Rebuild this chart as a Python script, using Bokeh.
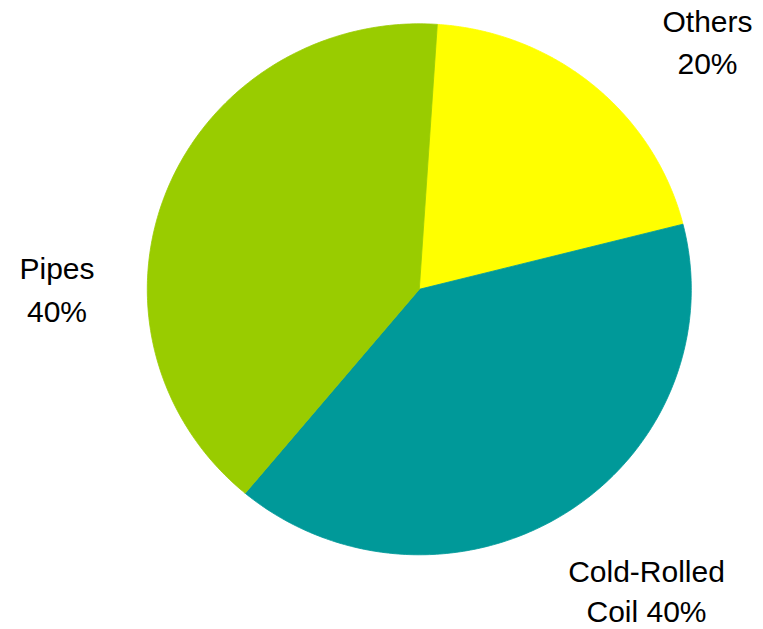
import numpy as np
from bokeh.plotting import figure
from bokeh.models import Range1d, ColumnDataSource
from bokeh.core.properties import value
from bokeh.embed import file_html
from bokeh.resources import INLINE

# ---- data ----
categories = ["Others", "Cold-Rolled Coil", "Pipes"]
shares = [20, 40, 40]
label_lines = [["Others", "20%"], ["Cold-Rolled", "Coil 40%"], ["Pipes", "40%"]]

# ---- style / layout ----
colors = ["#FFFF00", "#009999", "#99CC00"]
W, H = 763, 629
cx, cy = 418.8, 288.8
rx, ry = 272.0, 265.5
start_deg = 3.8
label_x = [707, 646, 56.5]
label_baselines = [[21, 63], [571, 611], [268, 311]]

p = figure(width=W, height=H, x_range=Range1d(0, W), y_range=Range1d(H, 0),
           output_backend="svg", toolbar_location=None, min_border=0,
           x_axis_location=None, y_axis_location=None)
p.grid.visible = False
p.outline_line_color = None
p.background_fill_color = "white"
p.border_fill_color = "white"

total = float(sum(shares))
fr = np.cumsum([0] + shares) / total
xs, ys = [], []
for i in range(len(shares)):
    a0 = np.deg2rad(start_deg + 360 * fr[i])
    a1 = np.deg2rad(start_deg + 360 * fr[i + 1])
    t = np.linspace(a0, a1, 200)
    xs.append([cx] + list(cx + rx * np.sin(t)))
    ys.append([cy] + list(cy - ry * np.cos(t)))

src = ColumnDataSource(dict(xs=xs, ys=ys, color=colors, cat=categories))
p.patches("xs", "ys", source=src, fill_color="color", line_color="color", line_width=0.8)

tx, ty, tt = [], [], []
for i, lines in enumerate(label_lines):
    for j, line in enumerate(lines):
        tx.append(label_x[i])
        ty.append(label_baselines[i][j])
        tt.append(line)
p.text(tx, ty, text=tt, text_align="center", text_baseline="alphabetic",
       text_font=value("Liberation Sans"), text_font_size="30px", text_color="black")

open("out.html", "w").write(file_html(p, INLINE))
